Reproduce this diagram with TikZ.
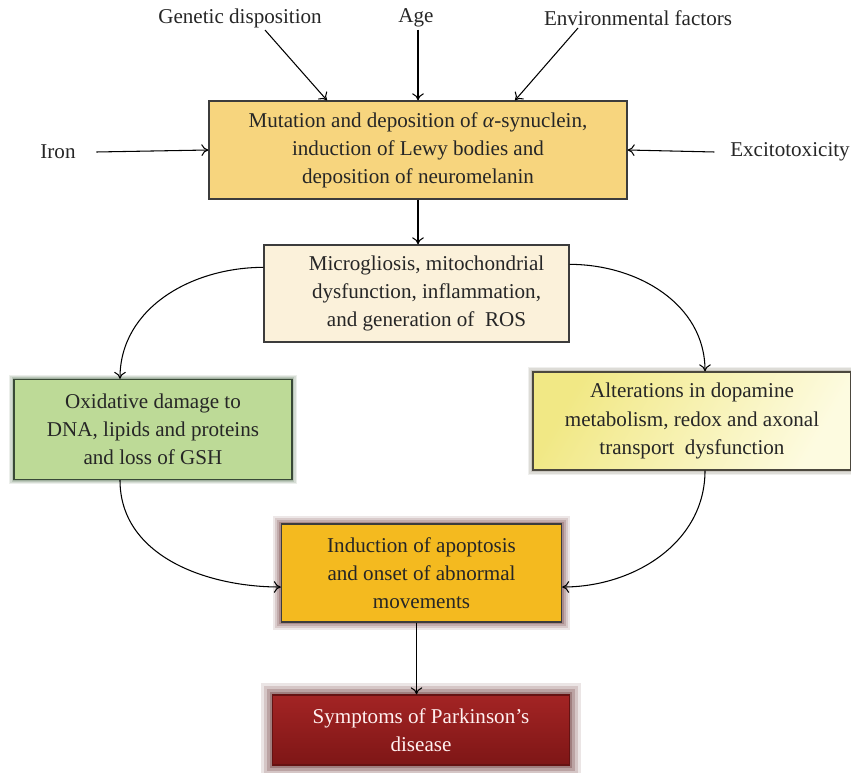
\documentclass[tikz,border=0pt]{standalone}
\usepackage{fontspec}
\setmainfont{Liberation Serif}
\usetikzlibrary{arrows.meta,positioning,calc}

\definecolor{txtc}{HTML}{262626}
\definecolor{edgec}{HTML}{3C3C3C}
\definecolor{topfill}{HTML}{F7D57E}
\definecolor{microfill}{HTML}{FBF1DA}
\definecolor{oxidfill}{HTML}{BDDA97}
\definecolor{oxidglow}{HTML}{5F7A5C}
\definecolor{alterlight}{HTML}{FDFBE0}
\definecolor{alterdark}{HTML}{F1E885}
\definecolor{alterglow}{HTML}{7F7868}
\definecolor{inducfill}{HTML}{F4BA1F}
\definecolor{inducglow}{HTML}{6E3A3A}
\definecolor{symptop}{HTML}{A32424}
\definecolor{sympbot}{HTML}{7E1616}
\definecolor{sympglow}{HTML}{5E2626}

\begin{document}
\begin{tikzpicture}[
    every node/.style={font=\fontsize{18}{24}\selectfont, text=txtc},
    box/.style={draw=edgec, line width=1.1pt, align=center, inner sep=0pt},
    halo/.style 2 args={preaction={draw=#1, draw opacity=0.12, line width=2*#2, rounded corners=#2},
                        preaction={draw=#1, draw opacity=0.16, line width=1.5*#2, rounded corners=0.75*#2},
                        preaction={draw=#1, draw opacity=0.22, line width=#2, rounded corners=0.5*#2},
                        preaction={draw=#1, draw opacity=0.30, line width=0.5*#2}},
    flow/.style={-{To[length=6pt,width=10pt]}, line width=0.9pt, black}
]
    %Frame of the page (851 x 772 px, 1 px = 0.03 cm)%
    %===========================================================
    \useasboundingbox (0,0) rectangle (25.53,-23.16);

    %Causes%
    %===========================================================
    \node (gen) at (7.2,-0.54) {Genetic disposition};
    \node (age) at (12.48,-0.54) {Age};
    \node (env) at (19.14,-0.54) {Environmental factors};
    \node (iron) at (1.74,-4.56) {Iron};
    \node (exc) at (23.7,-4.56) {Excitotoxicity};

    %Boxes%
    %===========================================================
    \node[box, fill=topfill, minimum width=12.54cm, minimum height=2.94cm] (top) at (12.54,-4.5)
        {Mutation and deposition of \textit{α}-synuclein,\\ induction of Lewy bodies and\\ deposition of neuromelanin};
    \node[box, fill=microfill, minimum width=9.15cm, minimum height=2.91cm] (micro) at (12.495,-8.805)
        {\hspace*{0.6cm}Microgliosis, mitochondrial\\ \hspace*{0.6cm}dysfunction, inflammation,\\ \hspace*{0.6cm}and generation of\ \ ROS};
    \node[box, draw=oxidglow!60!black, halo={oxidglow}{4pt}, fill=oxidfill, minimum width=8.34cm, minimum height=3cm] (oxid) at (4.59,-12.885)
        {Oxidative damage to\\ DNA, lipids and proteins\\ and loss of GSH};
    \node[box, draw=alterglow!60!black, halo={alterglow}{4pt}, left color=alterdark, right color=alterlight, shading angle=60, minimum width=9.54cm, minimum height=2.94cm] (alter) at (20.76,-12.63)
        {Alterations in dopamine\\ metabolism, redox and axonal\\ transport\ \ dysfunction};
    \node[box, halo={inducglow}{7pt}, fill=inducfill, minimum width=8.4cm, minimum height=2.94cm] (induc) at (12.645,-17.19)
        {Induction of apoptosis\\ and onset of abnormal\\ movements};
    \node[box, draw=sympbot!80!black, halo={sympglow}{10pt}, top color=symptop, bottom color=sympbot, minimum width=8.91cm, minimum height=2.1cm, text=white!94!red] (sympt) at (12.63,-21.9)
        {Symptoms of Parkinson’s\\ disease};

    %Arrows into the first box%
    %===========================================================
    \draw[flow] ([xshift=0.75cm,yshift=0.05cm]gen.south) -- ([xshift=-2.73cm]top.north);
    \draw[flow] ([yshift=0.05cm]top.north |- age.south) -- (top.north);
    \draw[flow] ([xshift=-1.8cm,yshift=0.05cm]env.south) -- ([xshift=2.91cm]top.north);
    \draw[flow] (iron.east) ++(0.5,0) -- (top.west);
    \draw[flow] (exc.west) ++(-0.35,0) -- (top.east);

    %Flow between the boxes%
    %===========================================================
    \draw[flow] (top.south) -- (top.south |- micro.north);
    \draw[flow] ([yshift=-0.69cm]micro.north west) to[out=180,in=90] ([xshift=-0.99cm]oxid.north);
    \draw[flow] ([yshift=-0.6cm]micro.north east) to[out=0,in=90] ([xshift=0.39cm]alter.north);
    \draw[flow] ([xshift=-0.99cm]oxid.south) to[out=-90,in=180] ([yshift=-0.42cm]induc.west);
    \draw[flow] ([xshift=0.39cm]alter.south) to[out=-90,in=0] ([yshift=-0.42cm]induc.east);
    \draw[flow] ([xshift=-0.15cm]induc.south) -- ([xshift=-0.15cm]induc.south |- sympt.north);
\end{tikzpicture}
\end{document}
